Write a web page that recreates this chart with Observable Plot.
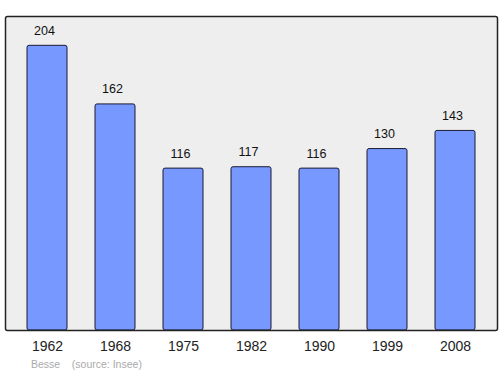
<!DOCTYPE html>
<html><head><meta charset="utf-8">
<script src="https://cdn.jsdelivr.net/npm/d3@7"></script>
<script src="https://cdn.jsdelivr.net/npm/@observablehq/plot@0.6"></script>
<style>
body{margin:0;background:#fff;font-family:"Liberation Sans",Arial,sans-serif;}
#cap{position:absolute;left:31px;top:357px;font-size:10.5px;color:#aaa;white-space:pre;line-height:14px;}
</style></head>
<body><div id="chart"></div><div id="cap">Besse    (source: Insee)</div>
<script>
const years = ["1962","1968","1975","1982","1990","1999","2008"];
const population = [204,162,116,117,116,130,143];
const data = years.map((y,i)=>({year:y, pop:population[i]}));
const chart = Plot.plot({
  width:500, height:356,
  marginLeft:5, marginRight:3, marginTop:16, marginBottom:26,
  style:{fontFamily:"Liberation Sans, Arial, sans-serif", background:"#fff"},
  x:{domain:years, paddingInner:0.415, paddingOuter:0.307, label:null, tickSize:0, tickPadding:11},
  y:{domain:[0,225], axis:null},
  marks:[
    Plot.frame({fill:"#eeeeee", stroke:"none"}),
    Plot.barY(data,{x:"year", y:"pop", fill:"#7799ff", stroke:"#1a1a33", strokeWidth:1, rx:2}),
    Plot.text(data,{x:"year", y:"pop", text:d=>String(d.pop), dy:-15, dx:-3, fontSize:12.5, fill:"#111"}),
    Plot.frame({stroke:"#222", strokeWidth:1.5, rx:2}),
    Plot.axisX({tickSize:0, tickPadding:11, fontSize:14, fill:"#222", label:null})
  ]
});
document.getElementById("chart").appendChild(chart);
</script></body></html>
